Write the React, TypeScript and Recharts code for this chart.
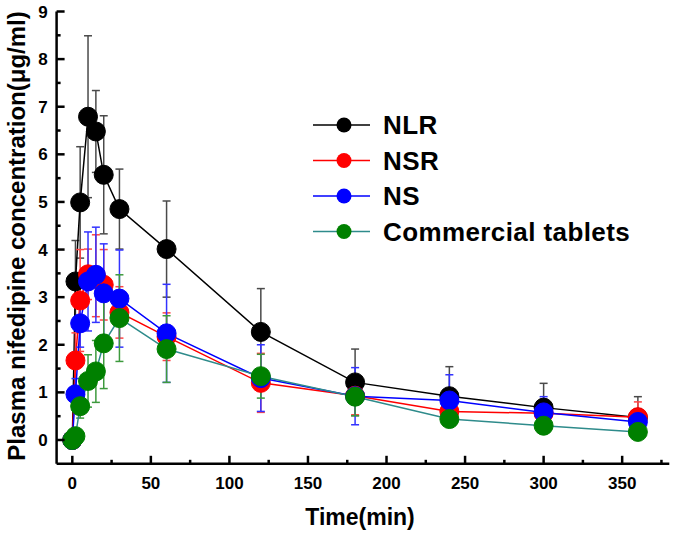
import { ComposedChart, Line, XAxis, YAxis, ErrorBar, Legend, Label } from "recharts";

// sampling times (min)
const times = [0, 2, 5, 10, 15, 20, 30, 60, 120, 180, 240, 300, 360];

// plasma concentration (ug/ml) and SD
const nlr = [0, 3.33, 4.99, 6.79, 6.48, 5.57, 4.85, 4.01, 2.27, 1.21, 0.92, 0.68, 0.47];
const nlrErr = [0, 0.86, 1.17, 1.7, 0.86, 1.24, 0.84, 1.01, 0.91, 0.7, 0.62, 0.51, 0.44];
const nsr = [0, 1.67, 2.93, 3.48, 3.45, 3.26, 2.68, 2.17, 1.2, 0.93, 0.6, 0.56, 0.48];
const nsrErr = [0, 0.58, 1.07, 0.53, 0.86, 0.74, 0.54, 0.5, 0.62, 0.4, 0.26, 0.12, 0.32];
const ns = [0, 0.96, 2.45, 3.33, 3.47, 3.08, 2.97, 2.24, 1.3, 0.92, 0.83, 0.58, 0.38];
const nsErr = [0, 0.33, 0.5, 1.04, 1.0, 1.04, 1.02, 1.03, 0.7, 0.6, 0.54, 0.33, 0.1];
const tablets = [0, 0.08, 0.71, 1.24, 1.44, 2.03, 2.56, 1.91, 1.34, 0.91, 0.44, 0.3, 0.17];
const tabletsErr = [0, 0.1, 0.25, 0.55, 0.65, 0.95, 0.91, 0.7, 0.46, 0.4, 0.1, 0.1, 0.05];

const xTicks = [0, 25, 50, 75, 100, 125, 150, 175, 200, 225, 250, 275, 300, 325, 350, 375];
const yTicks = [0, 0.5, 1, 1.5, 2, 2.5, 3, 3.5, 4, 4.5, 5, 5.5, 6, 6.5, 7, 7.5, 8, 8.5, 9];

const FONT = '"Liberation Sans", Arial, sans-serif';

const series = [
  { key: "nlr", name: "NLR", line: "#000000", dot: "#000000", err: "#4a4a4a" },
  { key: "nsr", name: "NSR", line: "#ff0000", dot: "#ff0000", err: "#ff4444" },
  { key: "ns", name: "NS", line: "#0000ff", dot: "#0000ff", err: "#3333ff" },
  { key: "tab", name: "Commercial tablets", line: "#2e8b8b", dot: "#008000", err: "#3d9a3d" },
];

const rows = times.map((t, i) => ({
  t,
  nlr: nlr[i],
  nlrErr: nlrErr[i],
  nsr: nsr[i],
  nsrErr: nsrErr[i],
  ns: ns[i],
  nsErr: nsErr[i],
  tab: tablets[i],
  tabErr: tabletsErr[i],
}));

function XTick({ x, y, payload }: any) {
  const v = payload.value;
  const major = v % 50 === 0;
  return (
    <g>
      <line x1={x} x2={x} y1={y} y2={y - (major ? 8 : 4)} stroke="#000" strokeWidth={2.5} />
      {major ? (
        <text x={x} y={y + 25} textAnchor="middle" fontFamily={FONT} fontWeight="bold" fontSize={17} fill="#000">
          {v}
        </text>
      ) : null}
    </g>
  );
}

function YTick({ x, y, payload }: any) {
  const v = payload.value;
  const major = Number.isInteger(v);
  return (
    <g>
      <line x1={x} x2={x + (major ? 8 : 4)} y1={y} y2={y} stroke="#000" strokeWidth={2.5} />
      {major ? (
        <text x={x - 9} y={y + 6} textAnchor="end" fontFamily={FONT} fontWeight="bold" fontSize={17} fill="#000">
          {v}
        </text>
      ) : null}
    </g>
  );
}

function LegendBox() {
  return (
    <svg width={370} height={150} style={{ display: "block" }}>
      {series.map((s, i) => {
        const cy = 25 + i * 35.5;
        return (
          <g key={s.key}>
            <line x1={13} x2={70} y1={cy} y2={cy} stroke={s.line} strokeWidth={1.5} />
            <circle cx={44} cy={cy} r={7.5} fill={s.dot} />
            <text
              x={83}
              y={cy + 9}
              fontFamily={FONT}
              fontWeight="bold"
              fontSize={26}
              letterSpacing={0.4}
              fill="#000"
            >
              {s.name}
            </text>
          </g>
        );
      })}
    </svg>
  );
}

export default function App() {
  return (
    <div style={{ position: "absolute", left: 0, top: 0, width: 675, height: 534, background: "#fff" }}>
      <ComposedChart width={675} height={534} data={rows} margin={{ top: 11.5, right: 5.7, left: 0, bottom: 0 }}>
        <XAxis
          dataKey="t"
          type="number"
          domain={[-10, 380]}
          allowDataOverflow
          ticks={xTicks}
          interval={0}
          height={70.2}
          tickSize={0}
          tickMargin={0}
          tick={<XTick />}
          tickLine={false}
          axisLine={{ stroke: "#000", strokeWidth: 2.5 }}
        >
          <Label
            content={() => (
              <text x={360} y={525} textAnchor="middle" fontFamily={FONT} fontWeight="bold" fontSize={23} fill="#000">
                Time(min)
              </text>
            )}
          />
        </XAxis>
        <YAxis
          type="number"
          domain={[-0.5, 9]}
          allowDataOverflow
          ticks={yTicks}
          interval={0}
          width={56.6}
          tickSize={0}
          tickMargin={0}
          tick={<YTick />}
          tickLine={false}
          axisLine={{ stroke: "#000", strokeWidth: 2.5 }}
        >
          <Label
            content={() => (
              <text
                x={16}
                y={236}
                transform="rotate(-90 16 236)"
                textAnchor="middle"
                dominantBaseline="central"
                fontFamily={FONT}
                fontWeight="bold"
                fontSize={24}
                fill="#000"
              >
                Plasma nifedipine concentration(μg/ml)
              </text>
            )}
          />
        </YAxis>
        <Legend
          layout="vertical"
          align="center"
          verticalAlign="middle"
          content={() => <LegendBox />}
          wrapperStyle={{ position: "absolute", left: 300, top: 100, width: 370, height: 150 }}
        />
        {series.map((s) => (
          <Line
            key={s.key}
            dataKey={s.key}
            type="linear"
            stroke={s.line}
            strokeWidth={1.5}
            dot={{ r: 9.5, fill: s.dot, stroke: s.dot, strokeWidth: 1 }}
            activeDot={false}
            isAnimationActive={false}
          >
            <ErrorBar dataKey={s.key + "Err"} direction="y" width={4} stroke={s.err} strokeWidth={1.5} />
          </Line>
        ))}
      </ComposedChart>
    </div>
  );
}
